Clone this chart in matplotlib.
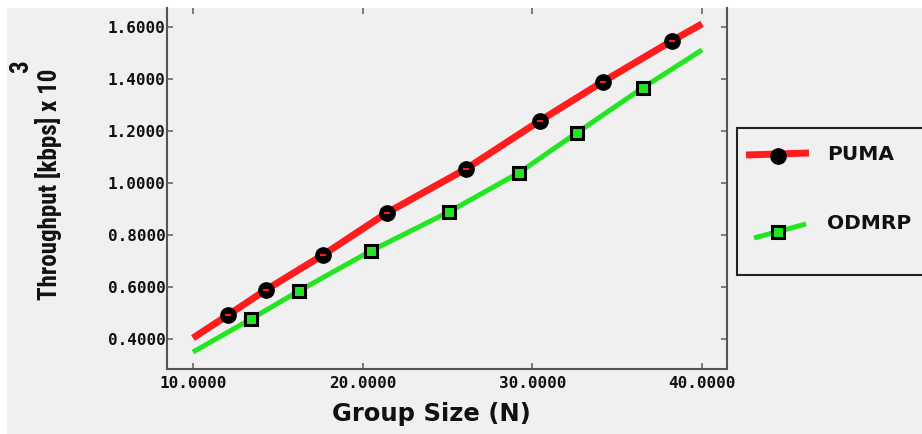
import matplotlib
matplotlib.use('Agg')
import matplotlib.pyplot as plt
from matplotlib.lines import Line2D
from matplotlib.patches import Rectangle
from matplotlib.ticker import FormatStrFormatter

# data
size_puma = [10, 12.06, 14.30, 17.66, 21.43, 26.09, 30.45, 34.16, 38.23, 40]
thr_puma = [0.405, 0.493, 0.590, 0.724, 0.886, 1.055, 1.240, 1.390, 1.547, 1.612]
size_odmrp = [10, 13.42, 16.25, 20.49, 25.09, 29.21, 32.63, 36.52, 40]
thr_odmrp = [0.351, 0.478, 0.586, 0.740, 0.890, 1.040, 1.194, 1.367, 1.512]
x_ticks = [10, 20, 30, 40]
y_ticks = [0.4, 0.6, 0.8, 1.0, 1.2, 1.4, 1.6]
labels = ['PUMA', 'ODMRP']

RED = '#ff1c1c'
GREEN = '#22e622'
BG = '#f0f0f0'
W, H = 922, 434

fig = plt.figure(figsize=(W / 100, H / 100), dpi=100, facecolor='white')
fig.patches.append(Rectangle((7 / W, 0), 1, (H - 8) / H, transform=fig.transFigure,
                             facecolor=BG, edgecolor='none', zorder=-10))

ax = fig.add_axes([167 / W, (H - 369) / H, (727 - 167) / W, (369 - 8) / H])
ax.set_facecolor(BG)

# lines
ax.plot(size_puma, thr_puma, color=RED, lw=5, solid_capstyle='butt', zorder=3)
ax.plot(size_odmrp, thr_odmrp, color=GREEN, lw=3.6, solid_capstyle='butt', zorder=3)
# markers at the inner points
ax.plot(size_puma[1:-1], thr_puma[1:-1], ls='none', marker='o', ms=11,
        mfc='black', mec='black', zorder=4)
ax.plot(size_puma[1:-1], thr_puma[1:-1], ls='none', marker='_', ms=4,
        mec=RED, mew=1.5, zorder=5)
ax.plot(size_odmrp[1:-1], thr_odmrp[1:-1], ls='none', marker='s', ms=8,
        mfc=GREEN, mec='black', mew=2.2, zorder=4)

ax.set_xlim(8.47, 41.47)
ax.set_ylim(0.286, 1.673)
ax.set_xticks(x_ticks)
ax.set_yticks(y_ticks)
ax.xaxis.set_major_formatter(FormatStrFormatter('%.4f'))
ax.yaxis.set_major_formatter(FormatStrFormatter('%.4f'))

for lab in ax.get_xticklabels() + ax.get_yticklabels():
    lab.set_family('DejaVu Sans Mono')
    lab.set_weight('bold')
    lab.set_size(11.5)
    lab.set_color('#111111')

ax.tick_params(axis='x', direction='in', length=4, width=1.2, color='#666666',
               pad=5, top=True)
ax.tick_params(axis='y', direction='in', length=4, width=1.2, color='#666666',
               pad=1, right=True)

ax.spines['top'].set_visible(False)
for s in ['left', 'bottom', 'right']:
    ax.spines[s].set_color('#555555')
    ax.spines[s].set_linewidth(1.5)

# axis titles
fig.text(431 / W, 1 - 414 / H, 'Group Size (N)', ha='center', va='center',
         fontsize=17.5, fontweight='bold', color='#111111')
ylab_font = ['Roboto Condensed', 'Barlow Condensed', 'Archivo Narrow', 'DejaVu Sans']
fig.text(49 / W, 1 - 184 / H, 'Throughput [kbps] x 10', rotation=90,
         ha='center', va='center', fontsize=18, fontweight='bold',
         family=ylab_font, color='#111111')
fig.text(21 / W, 1 - 67 / H, '3', rotation=90, ha='center', va='center',
         fontsize=18, fontweight='bold', family=ylab_font, color='#111111')

# legend box, drawn by hand (it runs past the right edge)
fig.patches.append(Rectangle((737 / W, 1 - 275 / H), (935 - 737) / W, (275 - 128) / H,
                             transform=fig.transFigure, facecolor=BG,
                             edgecolor='#222222', lw=1.5, zorder=5))
tf = fig.transFigure
fig.lines.append(Line2D([746 / W, 809 / W], [1 - 155 / H, 1 - 153 / H], transform=tf,
                        color=RED, lw=5, solid_capstyle='butt', zorder=6))
fig.lines.append(Line2D([778 / W], [1 - 156 / H], transform=tf, ls='none',
                        marker='o', ms=11, mfc='black', mec='black', zorder=7))
fig.lines.append(Line2D([754 / W, 806 / W], [1 - 238 / H, 1 - 224 / H], transform=tf,
                        color=GREEN, lw=3.6, solid_capstyle='butt', zorder=6))
fig.lines.append(Line2D([778 / W], [1 - 232 / H], transform=tf, ls='none',
                        marker='s', ms=8, mfc=GREEN, mec='black', mew=2.2, zorder=7))
fig.text(827 / W, 1 - 155 / H, labels[0], ha='left', va='center', fontsize=14.5,
         fontweight='bold', color='#111111', zorder=8)
fig.text(827 / W, 1 - 223 / H, labels[1], ha='left', va='center', fontsize=14.5,
         fontweight='bold', color='#111111', zorder=8)

fig.savefig('out.png', dpi=100, facecolor='white')
